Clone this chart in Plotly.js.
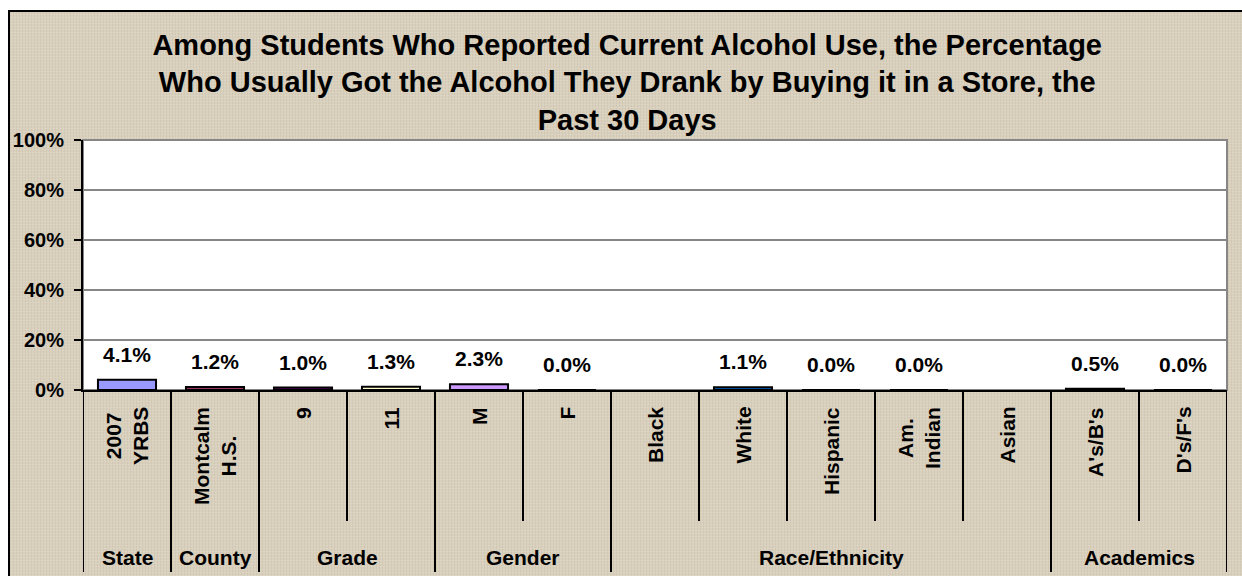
<!DOCTYPE html>
<html>
<head>
<meta charset="utf-8">
<script src="https://cdn.plot.ly/plotly-3.0.1.min.js"></script>
<style>
  html, body { margin: 0; padding: 0; background: #ffffff; width: 1242px; height: 576px; overflow: hidden; }
  #bg {
    position: absolute; left: 8px; top: 10px; width: 1240px; height: 570px;
    border-left: 2px solid #000; border-top: 2px solid #000;
    background-color: #d8cfbc;
    background-image:
      repeating-linear-gradient(0deg, rgba(255,255,255,0.12) 0px, rgba(255,255,255,0.12) 1px, rgba(0,0,0,0) 1px, rgba(0,0,0,0) 3px),
      repeating-linear-gradient(90deg, rgba(120,100,70,0.07) 0px, rgba(120,100,70,0.07) 1px, rgba(0,0,0,0) 1px, rgba(0,0,0,0) 3px);
  }
  #chart { position: absolute; left: 0; top: 0; width: 1242px; height: 576px; }
</style>
</head>
<body>
<div id="bg"></div>
<div id="chart"></div>
<script>
const categories = ['2007<br>YRBS', 'Montcalm<br>H.S.', '9', '11', 'M', 'F', 'Black', 'White', 'Hispanic', 'Am.<br>Indian', 'Asian', "A's/B's", "D's/F's"];
const values = [4.1, 1.2, 1.0, 1.3, 2.3, 0.0, null, 1.1, 0.0, 0.0, null, 0.5, 0.0];
const barColors = ['#9999FF', '#993366', '#660066', '#FFFFCC', '#CC99FF', '#FF8080', '#0066CC', '#0066CC', '#CCCCFF', '#000080', '#FF00FF', '#993366', '#00FFFF'];
const groupNames = ['State', 'County', 'Grade', 'Gender', 'Race/Ethnicity', 'Academics'];
const groupSizes = [1, 1, 2, 2, 5, 2];
const yTickVals = [0, 20, 40, 60, 80, 100];
const yTickText = ['0%', '20%', '40%', '60%', '80%', '100%'];
const titleText = 'Among Students Who Reported Current Alcohol Use, the Percentage<br>Who Usually Got the Alcohol They Drank by Buying it in a Store, the<br>Past 30 Days';

const FONT = 'Liberation Sans, Arial, Helvetica, sans-serif';

const trace = {
  type: 'bar',
  x: categories.map((c, i) => i),
  y: values,
  marker: { color: barColors, line: { color: '#000000', width: 2 } },
  hoverinfo: 'y'
};

const annotations = [];
// data labels
values.forEach((v, i) => {
  if (v === null) return;
  annotations.push({
    x: i, y: v, xref: 'x', yref: 'y',
    text: v.toFixed(1) + '%', showarrow: false,
    yanchor: 'bottom', yshift: 12,
    font: { family: FONT, size: 21, color: '#000', weight: 'bold' }
  });
});
// category labels (rotated)
categories.forEach((c, i) => {
  annotations.push({
    x: i, y: -0.06, xref: 'x', yref: 'paper',
    text: '<b>' + c + '</b>', showarrow: false, textangle: -90,
    yanchor: 'top', xanchor: 'center', align: 'center',
    font: { family: FONT, size: 21, color: '#000' }
  });
});
// group labels and separators
const shapes = [];
let start = 0;
const groupStartIdx = [];
groupSizes.forEach((n, g) => {
  groupStartIdx.push(start);
  const center = start + (n - 1) / 2;
  annotations.push({
    x: center, y: -0.668, xref: 'x', yref: 'paper',
    text: '<b>' + groupNames[g] + '</b>', showarrow: false,
    yanchor: 'middle', xanchor: 'center',
    font: { family: FONT, size: 21, color: '#000' }
  });
  start += n;
});
for (let b = 0; b <= categories.length; b++) {
  const isGroupEdge = b === categories.length || groupStartIdx.indexOf(b) >= 0;
  shapes.push({
    type: 'line', xref: 'x', yref: 'paper',
    x0: b - 0.5, x1: b - 0.5, y0: 0, y1: isGroupEdge ? -0.728 : -0.524,
    line: { color: '#000', width: 2 }
  });
}
// plot area frame (gray top/right)
shapes.push({
  type: 'rect', xref: 'paper', yref: 'paper', x0: 0, x1: 1, y0: 0, y1: 1,
  line: { color: '#868686', width: 2 }, layer: 'below'
});

const layout = {
  width: 1242, height: 576,
  paper_bgcolor: 'rgba(0,0,0,0)',
  plot_bgcolor: '#ffffff',
  margin: { l: 83, r: 15, t: 140, b: 186, pad: 0 },
  showlegend: false,
  bargap: 0.34,
  title: {
    text: '<b>' + titleText + '</b>',
    x: 0.505, xanchor: 'center', xref: 'container',
    y: 0.905, yanchor: 'middle', yref: 'container',
    font: { family: FONT, size: 29, color: '#000' }
  },
  xaxis: {
    type: 'linear',
    range: [-0.5, categories.length - 0.5],
    showticklabels: false, ticks: '',
    showgrid: false, zeroline: false,
    showline: true, linecolor: '#000', linewidth: 2,
    fixedrange: true
  },
  yaxis: {
    range: [0, 100],
    tickvals: yTickVals, ticktext: yTickText,
    ticks: 'outside', ticklen: 7, tickwidth: 2, tickcolor: '#000',
    ticklabelstandoff: 6,
    tickfont: { family: FONT, size: 20, color: '#000', weight: 'bold' },
    showgrid: true, gridcolor: '#868686', gridwidth: 2,
    zeroline: false,
    showline: true, linecolor: '#000', linewidth: 2,
    fixedrange: true
  },
  annotations: annotations,
  shapes: shapes
};

Plotly.newPlot('chart', [trace], layout, { displayModeBar: false, staticPlot: true });
</script>
</body>
</html>
